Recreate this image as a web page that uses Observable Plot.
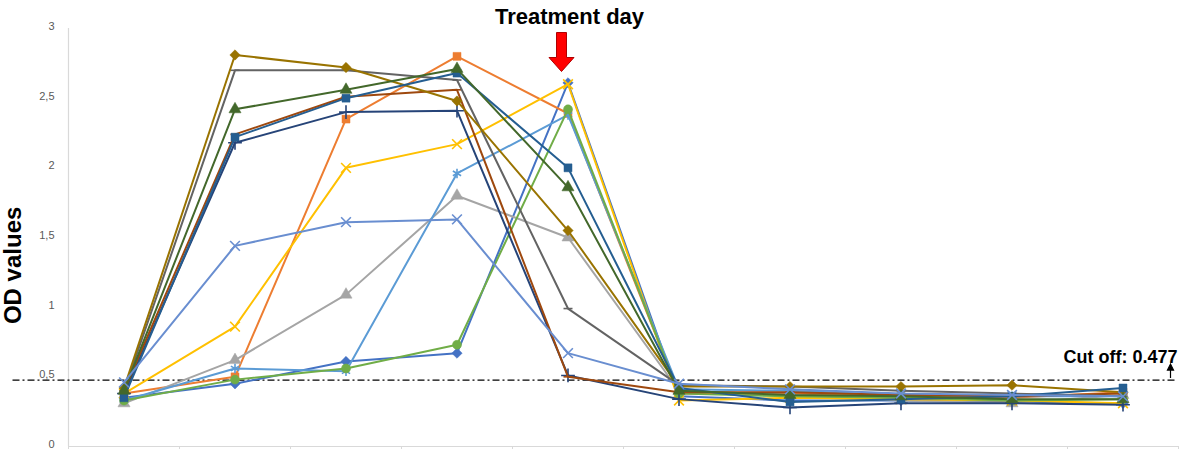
<!DOCTYPE html>
<html>
<head>
<meta charset="utf-8">
<script src="https://cdn.jsdelivr.net/npm/d3@7"></script>
<script src="https://cdn.jsdelivr.net/npm/@observablehq/plot@0.6"></script>
<style>
  html, body { margin: 0; padding: 0; background: #fff; }
  #chart svg { display: block; }
</style>
</head>
<body>
<div id="chart"></div>
<script>
// ---------- data ----------
const days = [1, 2, 3, 4, 5, 6, 7, 8, 9, 10];
const seriesNames = ["S1", "S2", "S3", "S4", "S5", "S6", "S7", "S8", "S9", "S10", "S11", "S12", "S13"];
const s1  = [0.35, 0.45, 0.61, 0.67, 2.61, 0.36, 0.33, 0.33, 0.32, 0.31];
const s2  = [0.38, 0.50, 2.35, 2.80, 2.39, 0.38, 0.38, 0.36, 0.35, 0.39];
const s3  = [0.31, 0.62, 1.09, 1.80, 1.50, 0.40, 0.37, 0.33, 0.31, 0.37];
const s4  = [0.38, 0.86, 2.00, 2.17, 2.60, 0.33, 0.35, 0.34, 0.33, 0.31];
const s5  = [0.33, 0.56, 0.54, 1.96, 2.38, 0.41, 0.40, 0.37, 0.36, 0.36];
const s6  = [0.33, 0.48, 0.56, 0.73, 2.42, 0.38, 0.36, 0.35, 0.33, 0.34];
const s7  = [0.38, 2.18, 2.40, 2.41, 0.51, 0.34, 0.28, 0.31, 0.31, 0.30];
const s8  = [0.40, 2.24, 2.51, 2.56, 0.50, 0.39, 0.39, 0.37, 0.36, 0.38];
const s9  = [0.40, 2.70, 2.70, 2.63, 0.99, 0.44, 0.43, 0.40, 0.38, 0.36];
const s10 = [0.42, 2.81, 2.72, 2.48, 1.55, 0.43, 0.43, 0.43, 0.44, 0.39];
const s11 = [0.35, 2.22, 2.50, 2.68, 2.00, 0.42, 0.32, 0.34, 0.36, 0.42];
const s12 = [0.40, 2.42, 2.56, 2.71, 1.86, 0.40, 0.37, 0.36, 0.34, 0.34];
const s13 = [0.46, 1.44, 1.61, 1.63, 0.67, 0.45, 0.41, 0.38, 0.37, 0.36];
const seriesValues = [s1, s2, s3, s4, s5, s6, s7, s8, s9, s10, s11, s12, s13];
const yTicks = [0, 0.5, 1, 1.5, 2, 2.5, 3];
const cutoff = 0.477;
const treatmentDay = 5;
const yLabel = "OD values";
const treatmentLabel = "Treatment day";

// ---------- styles ----------
const colors = ["#4472C4", "#ED7D31", "#A5A5A5", "#FFC000", "#5B9BD5", "#70AD47",
                "#264478", "#9E480E", "#636363", "#997300", "#255E91", "#43682B", "#698ED0"];
const diamondSym = { draw(ctx, size) { const r = Math.sqrt(size / Math.PI) * 1.15;
  ctx.moveTo(0, -r); ctx.lineTo(r, 0); ctx.lineTo(0, r); ctx.lineTo(-r, 0); ctx.closePath(); } };
const dashSym = { draw(ctx, size) { const r = Math.sqrt(size / Math.PI);
  ctx.moveTo(-r, 0); ctx.lineTo(r, 0); } };
const markers = [
  {symbol: diamondSym, filled: true},
  {symbol: "square", filled: true},
  {symbol: "triangle", filled: true},
  {symbol: "times", filled: false},
  {symbol: "asterisk", filled: false},
  {symbol: "circle", filled: true},
  {symbol: "plus", filled: false},
  {symbol: dashSym, filled: false},
  {symbol: dashSym, filled: false},
  {symbol: diamondSym, filled: true},
  {symbol: "square", filled: true},
  {symbol: "triangle", filled: true},
  {symbol: "times", filled: false}
];
const arrowSym = { draw(ctx) {
  ctx.moveTo(-5, -19); ctx.lineTo(5, -19); ctx.lineTo(5, 6); ctx.lineTo(12.5, 6);
  ctx.lineTo(0, 20); ctx.lineTo(-12.5, 6); ctx.lineTo(-5, 6); ctx.closePath(); } };
const upArrowSym = { draw(ctx) {
  ctx.moveTo(0, -1); ctx.lineTo(0, -10);
  ctx.moveTo(-3, -9); ctx.lineTo(0, -15); ctx.lineTo(3, -9); ctx.closePath(); } };

// ---------- marks ----------
const boundaries = days.map(d => d - 0.5).concat([days[days.length - 1] + 0.5]);
const seriesMarks = seriesNames.flatMap((name, i) => {
  const rows = days.map((d, j) => ({series: name, day: d, od: seriesValues[i][j]}));
  const m = markers[i];
  return [
    Plot.line(rows, {x: "day", y: "od", stroke: colors[i], strokeWidth: 2, strokeLinejoin: "round"}),
    Plot.dot(rows, {x: "day", y: "od", symbol: m.symbol, r: 4.5,
      fill: m.filled ? colors[i] : "none", stroke: colors[i], strokeWidth: m.filled ? 0.5 : 1.6})
  ];
});

const chart = Plot.plot({
  width: 1181,
  height: 449,
  marginLeft: 68,
  marginRight: 3,
  marginTop: 28,
  marginBottom: 3,
  style: {fontFamily: "'Liberation Sans', Arial, sans-serif", background: "#fff"},
  x: {type: "linear", domain: [boundaries[0], boundaries[boundaries.length - 1]]},
  y: {domain: [0, 3]},
  marks: [
    Plot.ruleY([0], {stroke: "#d9d9d9", strokeWidth: 1.2}),
    Plot.ruleX([boundaries[0]], {stroke: "#d9d9d9", strokeWidth: 1.2}),
    Plot.axisX({ticks: boundaries, tickFormat: () => "", tickSize: 4, stroke: "#d9d9d9", label: null}),
    Plot.axisY({ticks: yTicks, tickFormat: d => String(d).replace(".", ","), tickSize: 0,
      tickPadding: 14, fontSize: 11, color: "#595959", label: null, dy: -2}),
    Plot.text([yLabel], {frameAnchor: "left", y: () => 1.3, dx: -55, rotate: -90, textAnchor: "middle",
      text: d => d, fontSize: 24, fontWeight: "bold", fill: "#000"}),
    Plot.ruleY([cutoff], {stroke: "#000", strokeWidth: 1.2, strokeDasharray: "7,3,2,3", x2: () => 10.47}),
    ...seriesMarks,
    Plot.text([treatmentLabel], {x: () => treatmentDay, frameAnchor: "top", dx: 1.5, dy: -5,
      lineAnchor: "bottom", text: d => d, fontSize: 22, fontWeight: "bold", fill: "#000"}),
    Plot.dot([treatmentDay], {x: d => d, frameAnchor: "top", dx: -6.5, dy: 23, symbol: arrowSym,
      fill: "#ff0000", stroke: "#b00000", strokeWidth: 1}),
    Plot.text([cutoff], {y: d => d, frameAnchor: "right", dx: -1, dy: -17, textAnchor: "end",
      lineAnchor: "bottom", text: d => `Cut off: ${d}`, fontSize: 18, fontWeight: "bold", fill: "#000"}),
    Plot.dot([cutoff], {y: d => d, frameAnchor: "right", dx: -8, dy: -1, symbol: upArrowSym,
      fill: "#000", stroke: "#000", strokeWidth: 1.2})
  ]
});
document.getElementById("chart").appendChild(chart);
</script>
</body>
</html>
